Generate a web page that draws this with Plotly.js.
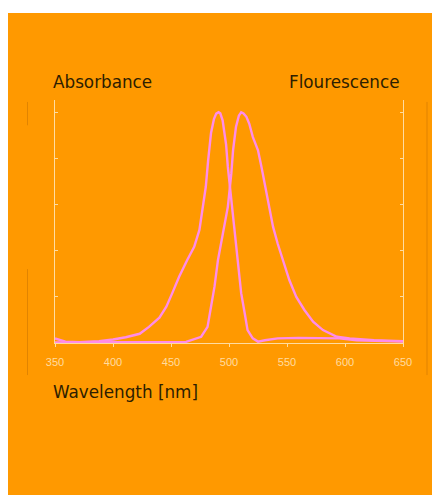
<!DOCTYPE html>
<html>
<head>
<meta charset="utf-8">
<script src="https://cdn.plot.ly/plotly-3.0.1.min.js"></script>
<style>
  html, body { margin: 0; padding: 0; background: #ffffff; width: 432px; height: 495px; overflow: hidden; }
  #chart { position: absolute; left: 8px; top: 13px; width: 424px; height: 482px; }
</style>
</head>
<body>
<div id="chart"></div>
<script>
// Wavelengths (nm) and normalised intensities
const absWavelength = [350, 359, 371, 388, 400, 411, 423, 431, 440, 446, 451, 457, 464, 470, 474.5, 477, 480, 482, 484.5, 487, 489, 491, 492.5, 494.5, 496, 497.5, 499, 502, 505, 507.5, 510.5, 513.5, 516, 520.5, 525, 531, 542, 560, 580, 595, 610, 630, 650];
const absValue      = [0.02, 0.006, 0.003, 0.008, 0.015, 0.025, 0.04, 0.07, 0.11, 0.157, 0.215, 0.287, 0.36, 0.417, 0.49, 0.576, 0.677, 0.79, 0.91, 0.97, 0.994, 1.0, 0.995, 0.965, 0.91, 0.86, 0.763, 0.62, 0.476, 0.33, 0.216, 0.13, 0.056, 0.02, 0.006, 0.012, 0.02, 0.022, 0.022, 0.02, 0.012, 0.008, 0.006];

const emWavelength = [350, 380, 420, 450, 463, 476, 481.5, 484.5, 487.5, 490.5, 494.5, 499, 502, 503.5, 506, 508.5, 510.5, 512.5, 515, 517.5, 520.5, 525, 528, 532, 535, 538, 542, 546.5, 552, 558, 565, 572.5, 581, 593, 604, 625, 650];
const emValue      = [0.002, 0.002, 0.002, 0.003, 0.005, 0.027, 0.07, 0.157, 0.244, 0.36, 0.475, 0.59, 0.735, 0.835, 0.936, 0.985, 1.0, 0.995, 0.98, 0.95, 0.893, 0.835, 0.763, 0.662, 0.576, 0.503, 0.43, 0.36, 0.273, 0.2, 0.143, 0.092, 0.056, 0.027, 0.02, 0.012, 0.008];

const xTicks = [350, 400, 450, 500, 550, 600, 650];
const yTicks = [0, 0.2, 0.4, 0.6, 0.8, 1.0];

const leftTitle = "Absorbance";
const rightTitle = "Flourescence";
const xTitle = "Wavelength [nm]";

const orange = "#ff9900";
const pale = "#ffdca0";
const pink = "#ff8ce8";
const dark = "#2e1e00";

const traces = [
  { x: absWavelength, y: absValue, type: "scatter", mode: "lines", name: leftTitle,
    line: { color: pink, width: 2.4 }, hoverinfo: "skip" },
  { x: emWavelength, y: emValue, type: "scatter", mode: "lines", name: rightTitle,
    line: { color: pink, width: 2.4 }, hoverinfo: "skip" }
];

const layout = {
  width: 424, height: 482,
  margin: { l: 47, r: 29, t: 87, b: 152, pad: 0 },
  paper_bgcolor: orange,
  plot_bgcolor: orange,
  showlegend: false,
  xaxis: {
    range: [350, 650],
    tickvals: xTicks,
    ticktext: xTicks.map(String),
    ticks: "outside", ticklen: 3, tickwidth: 1, tickcolor: pale,
    showline: true, linecolor: pale, linewidth: 1,
    showgrid: false, zeroline: false,
    tickfont: { family: "Liberation Sans, Arial, sans-serif", size: 11, color: pale },
    ticklabelstandoff: 6
  },
  yaxis: {
    range: [0, 1.053],
    tickvals: yTicks,
    showticklabels: false,
    ticks: "inside", ticklen: 3, tickwidth: 1, tickcolor: pale,
    showline: true, linecolor: pale, linewidth: 1, mirror: "ticks",
    showgrid: false, zeroline: false
  },
  annotations: [
    { text: leftTitle, xref: "paper", yref: "paper", x: -0.012, y: 1.074,
      xanchor: "left", yanchor: "middle", showarrow: false,
      font: { family: "DejaVu Sans, sans-serif", size: 16.8, color: dark } },
    { text: rightTitle, xref: "paper", yref: "paper", x: 0.997, y: 1.074,
      xanchor: "right", yanchor: "middle", showarrow: false,
      font: { family: "DejaVu Sans, sans-serif", size: 16.8, color: dark } },
    { text: xTitle, xref: "paper", yref: "paper", x: -0.012, y: -0.202,
      xanchor: "left", yanchor: "middle", showarrow: false,
      font: { family: "DejaVu Sans, sans-serif", size: 16.8, color: dark } }
  ],
  shapes: [
    { type: "line", xref: "paper", yref: "paper", x0: -0.079, x1: -0.079, y0: 0.896, y1: 0.992,
      line: { color: "rgba(170,95,0,0.35)", width: 1 } },
    { type: "line", xref: "paper", yref: "paper", x0: -0.079, x1: -0.079, y0: -0.132, y1: 0.304,
      line: { color: "rgba(170,95,0,0.35)", width: 1 } },
    { type: "line", xref: "paper", yref: "paper", x0: 1.069, x1: 1.069, y0: -0.132, y1: 0.992,
      line: { color: "rgba(170,95,0,0.35)", width: 1 } }
  ]
};

Plotly.newPlot("chart", traces, layout, { staticPlot: true, displayModeBar: false });
</script>
</body>
</html>
